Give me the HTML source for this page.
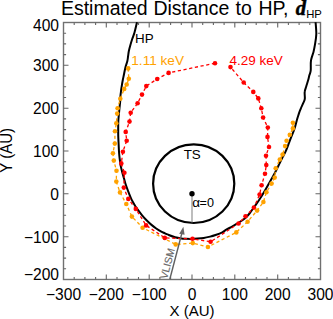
<!DOCTYPE html>
<html><head><meta charset="utf-8"><style>
html,body{margin:0;padding:0;background:#fff;}
body{width:333px;height:319px;overflow:hidden;}
svg{display:block;font-family:"Liberation Sans",sans-serif;}
</style></head><body>
<svg width="333" height="319" viewBox="0 0 333 319">
<rect width="333" height="319" fill="#fff"/>
<text y="14.6" font-size="19.5" fill="#000"><tspan x="60.9">Estimated</tspan><tspan x="153.4">Distance</tspan><tspan x="235.6">to</tspan><tspan x="258.4">HP,</tspan><tspan x="295.8" font-family="Liberation Serif" font-weight="bold" font-style="italic" font-size="20.5" stroke="#000" stroke-width="0.5">d</tspan><tspan font-size="11.3" x="306.2" dy="3.3">HP</tspan></text>
<g fill="none" stroke="#707070" stroke-width="1.4">
<rect x="63.5" y="22.5" width="257" height="257"/>
</g>
<path d="M74.2,279.5v-2.6 M74.2,22.5v2.6 M63.5,33.2h2.6 M320.5,33.2h-2.6 M84.9,279.5v-2.6 M84.9,22.5v2.6 M63.5,43.9h2.6 M320.5,43.9h-2.6 M95.6,279.5v-2.6 M95.6,22.5v2.6 M63.5,54.6h2.6 M320.5,54.6h-2.6 M106.3,279.5v-5 M106.3,22.5v5 M63.5,65.3h5 M320.5,65.3h-5 M117.0,279.5v-2.6 M117.0,22.5v2.6 M63.5,76.0h2.6 M320.5,76.0h-2.6 M127.8,279.5v-2.6 M127.8,22.5v2.6 M63.5,86.8h2.6 M320.5,86.8h-2.6 M138.5,279.5v-2.6 M138.5,22.5v2.6 M63.5,97.5h2.6 M320.5,97.5h-2.6 M149.2,279.5v-5 M149.2,22.5v5 M63.5,108.2h5 M320.5,108.2h-5 M159.9,279.5v-2.6 M159.9,22.5v2.6 M63.5,118.9h2.6 M320.5,118.9h-2.6 M170.6,279.5v-2.6 M170.6,22.5v2.6 M63.5,129.6h2.6 M320.5,129.6h-2.6 M181.3,279.5v-2.6 M181.3,22.5v2.6 M63.5,140.3h2.6 M320.5,140.3h-2.6 M192.0,279.5v-5 M192.0,22.5v5 M63.5,151.0h5 M320.5,151.0h-5 M202.7,279.5v-2.6 M202.7,22.5v2.6 M63.5,161.7h2.6 M320.5,161.7h-2.6 M213.4,279.5v-2.6 M213.4,22.5v2.6 M63.5,172.4h2.6 M320.5,172.4h-2.6 M224.1,279.5v-2.6 M224.1,22.5v2.6 M63.5,183.1h2.6 M320.5,183.1h-2.6 M234.8,279.5v-5 M234.8,22.5v5 M63.5,193.8h5 M320.5,193.8h-5 M245.5,279.5v-2.6 M245.5,22.5v2.6 M63.5,204.5h2.6 M320.5,204.5h-2.6 M256.2,279.5v-2.6 M256.2,22.5v2.6 M63.5,215.2h2.6 M320.5,215.2h-2.6 M267.0,279.5v-2.6 M267.0,22.5v2.6 M63.5,226.0h2.6 M320.5,226.0h-2.6 M277.7,279.5v-5 M277.7,22.5v5 M63.5,236.7h5 M320.5,236.7h-5 M288.4,279.5v-2.6 M288.4,22.5v2.6 M63.5,247.4h2.6 M320.5,247.4h-2.6 M299.1,279.5v-2.6 M299.1,22.5v2.6 M63.5,258.1h2.6 M320.5,258.1h-2.6 M309.8,279.5v-2.6 M309.8,22.5v2.6 M63.5,268.8h2.6 M320.5,268.8h-2.6" fill="none" stroke="#666" stroke-width="1.1"/>
<g font-size="15.6" fill="#000">
<text x="63.5" y="299.7" text-anchor="middle">−300</text><text x="106.3" y="299.7" text-anchor="middle">−200</text><text x="149.2" y="299.7" text-anchor="middle">−100</text><text x="192.0" y="299.7" text-anchor="middle">0</text><text x="234.8" y="299.7" text-anchor="middle">100</text><text x="277.7" y="299.7" text-anchor="middle">200</text><text x="320.5" y="299.7" text-anchor="middle">300</text>
<text x="59" y="31.3" text-anchor="end">400</text><text x="59" y="71.2" text-anchor="end">300</text><text x="59" y="114.1" text-anchor="end">200</text><text x="59" y="156.9" text-anchor="end">100</text><text x="59" y="199.7" text-anchor="end">0</text><text x="59" y="242.6" text-anchor="end">−100</text><text x="59" y="279.6" text-anchor="end">−200</text>
</g>
<text x="192" y="315.5" font-size="15" text-anchor="middle">X (AU)</text>
<text transform="translate(12.2,150.4) rotate(-90) scale(1,1.15)" font-size="15" text-anchor="middle">Y (AU)</text>
<!-- TS -->
<ellipse cx="193.7" cy="183.7" rx="40.6" ry="39.3" fill="none" stroke="#000" stroke-width="2.2"/>
<text x="192.2" y="159.4" font-size="13.4" text-anchor="middle">TS</text>
<line x1="192" y1="193.8" x2="192" y2="222.5" stroke="#888" stroke-width="1.1"/>
<circle cx="192" cy="193.8" r="2.7" fill="#000"/>
<text x="192.2" y="207.2" font-size="12.6"><tspan font-size="13.5">&#945;</tspan><tspan x="199.6">=0</tspan></text>
<!-- HP -->
<path d="M137,22.2 C136.6,23.9 135.3,29.7 134.5,32.5 C133.7,35.3 133.0,36.7 132.3,38.8 C131.6,40.9 131.0,42.9 130.4,45.0 C129.8,47.1 129.2,49.2 128.8,51.3 C128.4,53.4 128.2,55.9 127.9,57.6 C127.7,59.3 127.7,59.6 127.3,61.3 C126.9,62.9 125.9,65.4 125.4,67.5 C124.9,69.6 124.5,71.7 124.1,73.8 C123.7,75.9 123.2,77.9 122.8,80.0 C122.4,82.1 122.0,84.3 121.7,86.3 C121.4,88.3 121.1,90.2 120.9,92.0 C120.7,93.8 120.5,95.0 120.4,96.8 C120.3,98.5 120.3,100.5 120.1,102.5 C119.9,104.5 119.6,106.7 119.4,108.8 C119.2,110.9 119.0,112.9 118.8,115.0 C118.6,117.1 118.4,119.2 118.3,121.3 C118.2,123.4 118.2,125.8 118.2,127.6 C118.2,129.4 118.2,130.3 118.2,132.0 C118.2,133.7 118.2,135.5 118.3,137.5 C118.4,139.5 118.5,141.7 118.6,143.8 C118.7,145.9 118.8,147.9 118.9,150.0 C119.0,152.1 119.2,154.3 119.4,156.3 C119.6,158.3 119.9,160.3 120.1,162.0 C120.3,163.7 120.4,164.6 120.8,166.3 C121.2,168.1 121.8,170.4 122.3,172.5 C122.8,174.6 123.5,176.7 124.1,178.8 C124.7,180.9 125.2,182.9 125.9,185.0 C126.6,187.1 127.4,189.2 128.2,191.3 C129.0,193.4 129.9,195.7 130.7,197.6 C131.5,199.5 132.2,200.7 133.2,202.5 C134.2,204.3 135.1,206.1 136.6,208.2 C138.1,210.3 140.4,213.2 142.1,215.3 C143.8,217.4 145.2,218.9 146.8,220.5 C148.4,222.1 149.9,223.6 151.5,224.9 C153.1,226.2 154.6,227.4 156.2,228.5 C157.8,229.6 159.8,230.8 161.3,231.6 C162.8,232.4 163.8,232.8 165.0,233.4 C166.2,234.0 167.1,234.3 168.8,235.0 C170.5,235.7 173.0,236.7 175.1,237.3 C177.2,237.9 179.5,238.2 181.3,238.4 C183.1,238.7 184.3,238.7 186.0,238.8 C187.7,238.9 189.4,238.9 191.3,238.9 C193.2,238.9 195.4,238.8 197.5,238.6 C199.6,238.4 201.7,238.2 203.8,237.9 C205.9,237.6 208.0,237.1 210.1,236.6 C212.2,236.1 214.3,235.4 216.3,234.7 C218.3,234.0 220.6,233.1 222.3,232.3 C224.0,231.5 224.6,230.7 226.3,229.7 C228.0,228.7 230.4,227.5 232.5,226.3 C234.6,225.1 236.7,223.9 238.8,222.6 C240.9,221.2 243.3,219.7 245.1,218.2 C246.9,216.7 247.9,215.4 249.5,213.5 C251.1,211.6 252.8,208.8 254.4,206.6 C256.0,204.3 257.5,202.3 259.1,200.0 C260.7,197.7 262.2,195.2 263.8,192.5 C265.4,189.8 266.9,187.1 268.8,183.8 C270.7,180.5 273.4,175.7 275.1,172.5 C276.8,169.3 277.8,166.9 279.0,164.5 C280.2,162.1 281.3,159.8 282.3,157.8 C283.3,155.8 284.1,154.7 285.1,152.6 C286.1,150.5 287.2,147.7 288.2,145.1 C289.2,142.5 290.2,139.6 291.3,136.9 C292.4,134.2 293.6,131.6 294.5,128.8 C295.4,126.0 296.2,122.5 296.9,120.0 C297.6,117.5 298.2,115.8 298.8,113.9 C299.4,112.0 300.0,110.6 300.7,108.8 C301.4,107.0 302.5,104.9 303.2,103.2 C303.9,101.5 304.6,100.7 304.8,98.8 C305.1,96.9 304.4,94.0 304.7,91.9 C304.9,89.8 305.7,88.3 306.3,86.3 C306.9,84.3 307.7,81.8 308.2,80.0 C308.7,78.2 308.9,77.0 309.3,75.5 C309.7,74.0 310.4,73.2 310.7,70.7 C311.0,68.2 310.5,63.5 311.0,60.4 C311.5,57.3 312.8,54.6 313.5,51.9 C314.2,49.2 314.5,47.4 315.0,44.4 C315.5,41.4 316.2,37.8 316.3,34.1 C316.4,30.4 315.7,24.2 315.6,22.2" fill="none" stroke="#000" stroke-width="2" stroke-linejoin="round"/>
<text x="135" y="43.4" font-size="13.4">HP</text>
<!-- orange 1.11 keV -->
<polyline points="128.2,68.4 128.8,78.8 126.7,84.5 124.2,88.9 120.3,98.8 117.6,108.2 117.2,113.6 116.3,123.2 115,131.3 114.8,143.6 112.9,153.2 113.8,160.6 116.5,170.7 116.3,181.6 120,192.4 126.3,204 131.9,216.6 142.6,227.7 175.7,244.4 192.8,243.1 207.9,247 236.3,232.4 247.6,221.7 257.1,210.6 263.4,202 266.4,192.3 271.6,183.6 274.7,177.6 275.7,168.2 279.8,159.5 282.6,154.5 285.1,146.1 286.6,140.7 289.8,134.8 292.9,128.4 292.9,122.8" fill="none" stroke="#ffa200" stroke-width="1.3" stroke-dasharray="3.2,2.6"/>
<g fill="#ffa200"><circle cx="128.2" cy="68.4" r="2.3"/><circle cx="128.8" cy="78.8" r="2.3"/><circle cx="126.7" cy="84.5" r="2.3"/><circle cx="124.2" cy="88.9" r="2.3"/><circle cx="120.3" cy="98.8" r="2.3"/><circle cx="117.6" cy="108.2" r="2.3"/><circle cx="117.2" cy="113.6" r="2.3"/><circle cx="116.3" cy="123.2" r="2.3"/><circle cx="115" cy="131.3" r="2.3"/><circle cx="114.8" cy="143.6" r="2.3"/><circle cx="112.9" cy="153.2" r="2.3"/><circle cx="113.8" cy="160.6" r="2.3"/><circle cx="116.5" cy="170.7" r="2.3"/><circle cx="116.3" cy="181.6" r="2.3"/><circle cx="120" cy="192.4" r="2.3"/><circle cx="126.3" cy="204" r="2.3"/><circle cx="131.9" cy="216.6" r="2.3"/><circle cx="142.6" cy="227.7" r="2.3"/><circle cx="175.7" cy="244.4" r="2.3"/><circle cx="192.8" cy="243.1" r="2.3"/><circle cx="207.9" cy="247" r="2.3"/><circle cx="236.3" cy="232.4" r="2.3"/><circle cx="247.6" cy="221.7" r="2.3"/><circle cx="257.1" cy="210.6" r="2.3"/><circle cx="263.4" cy="202" r="2.3"/><circle cx="266.4" cy="192.3" r="2.3"/><circle cx="271.6" cy="183.6" r="2.3"/><circle cx="274.7" cy="177.6" r="2.3"/><circle cx="275.7" cy="168.2" r="2.3"/><circle cx="279.8" cy="159.5" r="2.3"/><circle cx="282.6" cy="154.5" r="2.3"/><circle cx="285.1" cy="146.1" r="2.3"/><circle cx="286.6" cy="140.7" r="2.3"/><circle cx="289.8" cy="134.8" r="2.3"/><circle cx="292.9" cy="128.4" r="2.3"/><circle cx="292.9" cy="122.8" r="2.3"/></g>
<text x="131.3" y="64.8" font-size="13.6" fill="#ffa200">1.11 keV</text>
<!-- red 4.29 keV -->
<polyline points="215,63.2 168.6,72.9 157.2,79 146.3,86.1 142,94.6 137.6,103.2 130.7,112.8 129.5,121.6 125.7,131.9 126.7,140.7 122.9,151.7 121.3,163.4 124.4,172.8 123.8,187.6 128.3,198.9 135.8,208.9 146.1,225.4 164.8,237.9 192.5,238.8 210.6,241.8 238.6,223.5 245.5,216.3 253.9,207.6 259.6,194.5 261.6,185.3 265,173.7 266.3,165.1 266,155.7 269,147 267.5,136.9 267.8,127.5 263.1,117.5 261.3,108.3 258.3,98.4 253.3,91.9 243.7,82.5 230.5,67.1" fill="none" stroke="#ff0000" stroke-width="1.3" stroke-dasharray="3.2,2.6"/>
<g fill="#ff0000"><circle cx="215" cy="63.2" r="2.3"/><circle cx="168.6" cy="72.9" r="2.3"/><circle cx="157.2" cy="79" r="2.3"/><circle cx="146.3" cy="86.1" r="2.3"/><circle cx="142" cy="94.6" r="2.3"/><circle cx="137.6" cy="103.2" r="2.3"/><circle cx="130.7" cy="112.8" r="2.3"/><circle cx="129.5" cy="121.6" r="2.3"/><circle cx="125.7" cy="131.9" r="2.3"/><circle cx="126.7" cy="140.7" r="2.3"/><circle cx="122.9" cy="151.7" r="2.3"/><circle cx="121.3" cy="163.4" r="2.3"/><circle cx="124.4" cy="172.8" r="2.3"/><circle cx="123.8" cy="187.6" r="2.3"/><circle cx="128.3" cy="198.9" r="2.3"/><circle cx="135.8" cy="208.9" r="2.3"/><circle cx="146.1" cy="225.4" r="2.3"/><circle cx="164.8" cy="237.9" r="2.3"/><circle cx="192.5" cy="238.8" r="2.3"/><circle cx="210.6" cy="241.8" r="2.3"/><circle cx="238.6" cy="223.5" r="2.3"/><circle cx="245.5" cy="216.3" r="2.3"/><circle cx="253.9" cy="207.6" r="2.3"/><circle cx="259.6" cy="194.5" r="2.3"/><circle cx="261.6" cy="185.3" r="2.3"/><circle cx="265" cy="173.7" r="2.3"/><circle cx="266.3" cy="165.1" r="2.3"/><circle cx="266" cy="155.7" r="2.3"/><circle cx="269" cy="147" r="2.3"/><circle cx="267.5" cy="136.9" r="2.3"/><circle cx="267.8" cy="127.5" r="2.3"/><circle cx="263.1" cy="117.5" r="2.3"/><circle cx="261.3" cy="108.3" r="2.3"/><circle cx="258.3" cy="98.4" r="2.3"/><circle cx="253.3" cy="91.9" r="2.3"/><circle cx="243.7" cy="82.5" r="2.3"/><circle cx="230.5" cy="67.1" r="2.3"/></g>
<text x="229.5" y="64.8" font-size="13.5" fill="#ff0000">4.29 keV</text>
<!-- VLISM arrow -->
<line x1="169.8" y1="279.2" x2="182.2" y2="232" stroke="#606060" stroke-width="1.4"/>
<path d="M183.4,226.8 L179.2,233.8 L184.6,234.8 Z" fill="#666"/>
<text transform="translate(167.1,279.6) rotate(-75.2)" font-size="10.4" fill="#666" stroke="#666" stroke-width="0.15">VLISM</text>
</svg>
</body></html>
